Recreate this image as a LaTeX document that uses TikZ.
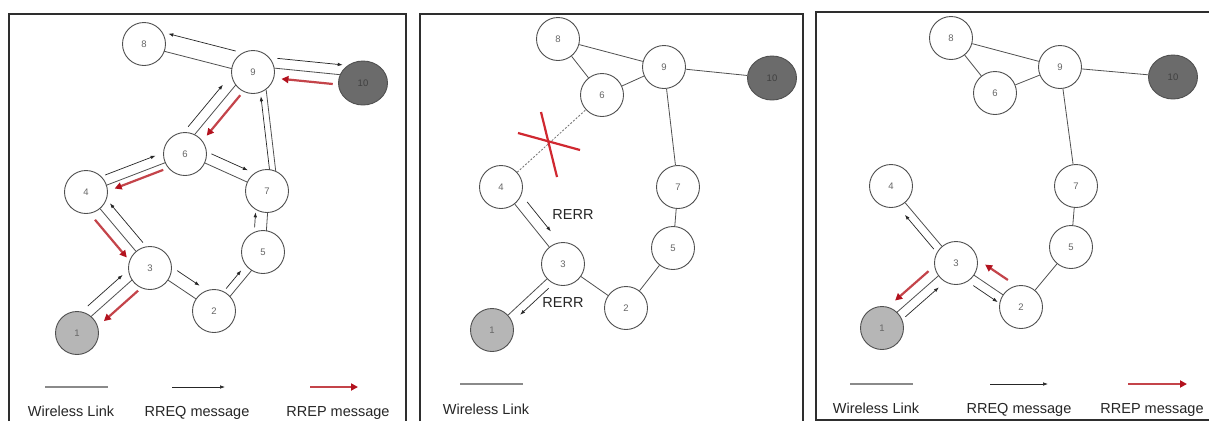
\documentclass[tikz,border=0pt]{standalone}
\usepackage{fontspec}
\setmainfont{Liberation Sans}
\usetikzlibrary{calc,arrows.meta,shapes.geometric}

\definecolor{framec}{HTML}{2E2E2E}
\definecolor{linkc}{HTML}{505050}
\definecolor{nodec}{HTML}{505050}
\definecolor{srcfill}{HTML}{B6B6B6}
\definecolor{dstfill}{HTML}{6B6B6B}
\definecolor{rrepc}{HTML}{C4444A}
\definecolor{rrephead}{HTML}{B3121E}
\definecolor{crossc}{HTML}{D02830}
\definecolor{legc}{HTML}{8A8A8A}

\tikzset{
  nd/.style={circle, draw=nodec, line width=0.9pt, minimum size=43pt, inner sep=0pt,
    fill=white, text=black!60, font=\fontsize{9.5}{9.5}\selectfont},
  srcnd/.style={nd, fill=srcfill},
  dstnd/.style={nd, ellipse, minimum width=49pt, minimum height=44pt, fill=dstfill, text=black!75},
  lnk/.style={draw=linkc, line width=0.8pt},
  rreq/.style={draw=black!85, line width=0.7pt, -{Latex[length=5pt,width=3.6pt]}},
  rrep/.style={draw=rrepc, line width=2.2pt, -{Triangle[length=7pt,width=7pt,color=rrephead]}},
  rerr/.style={rreq},
  deadlink/.style={draw=black!55, line width=0.8pt, dash pattern=on 2pt off 1.6pt},
  cross/.style={draw=crossc, line width=2.2pt},
  panel/.style={draw=framec, line width=1.8pt},
  leglink/.style={draw=legc, line width=1.3pt},
  lbl/.style={font=\fontsize{14.5}{14.5}\selectfont, text=black!85, anchor=base, inner sep=0pt},
}

% line parallel to the link a--b, shifted #4 pt to the left of the a->b direction,
% trimmed #5 pt at the start and #6 pt at the end
\newcommand{\pline}[6]{%
  \draw[#1, shorten <=#5pt, shorten >=#6pt]
    ($(#2)!#4pt!90:(#3)$) -- ($(#3)!#4pt!-90:(#2)$);}

\begin{document}
\begin{tikzpicture}[x=1pt,y=-1pt]
\useasboundingbox (0,0) rectangle (1209,421);
\fill[white] (0,0) rectangle (1209,421);

% ---------- panel frames ----------
\draw[panel] (9,421) -- (9,14) -- (406,14) -- (406,421);
\draw[panel] (420,421) -- (420,14) -- (803,14) -- (803,421);
\draw[panel] (1210,12) -- (816,12) -- (816,420) -- (1210,420);

% ================= panel 1: route discovery =================
\node[nd]    (a8)  at (144,44)  {8};
\node[nd]    (a9)  at (253,72)  {9};
\node[dstnd] (a10) at (363,83)  {10};
\node[nd]    (a6)  at (185,154) {6};
\node[nd]    (a4)  at (86,192)  {4};
\node[nd]    (a7)  at (267,191) {7};
\node[nd]    (a3)  at (150,268) {3};
\node[nd]    (a5)  at (263,252) {5};
\node[nd]    (a2)  at (214,311) {2};
\node[srcnd] (a1)  at (77,333)  {1};

\pline{lnk}{a9}{a8}{2}{21}{21}
\pline{rreq}{a9}{a8}{-16}{22}{21}
\pline{lnk}{a9}{a10}{6}{21}{24}
\pline{rreq}{a9}{a10}{16}{23}{22}
\pline{rrep}{a10}{a9}{4}{30}{29}
\pline{lnk}{a6}{a9}{5}{21}{21}
\pline{rreq}{a6}{a9}{15}{23}{29}
\pline{rrep}{a9}{a6}{5}{26}{28}
\pline{lnk}{a7}{a9}{-11}{19}{19}
\pline{rreq}{a7}{a9}{-5}{21}{25}
\draw[lnk] (a6) -- (a7);
\pline{rreq}{a6}{a7}{11}{24}{26}
\pline{lnk}{a4}{a6}{-1}{21}{21}
\pline{rreq}{a4}{a6}{9}{24}{28}
\pline{rrep}{a6}{a4}{7}{26}{28}
\draw[lnk] (a4) -- (a3);
\pline{rreq}{a3}{a4}{-11}{24}{24}
\pline{rrep}{a4}{a3}{-11}{27}{23}
\pline{lnk}{a1}{a3}{3}{21}{21}
\pline{rreq}{a1}{a3}{13}{26}{25}
\pline{rrep}{a3}{a1}{9}{24}{28}
\draw[lnk] (a3) -- (a2);
\pline{rreq}{a3}{a2}{13}{24}{26}
\pline{lnk}{a2}{a5}{-3}{21}{21}
\pline{rreq}{a2}{a5}{5}{25}{28}
\pline{lnk}{a5}{a7}{-2}{21}{21}
\pline{rreq}{a5}{a7}{10}{24}{22}

% legend
\draw[leglink] (45,387) -- (108,387);
\draw[rreq] (172,387) -- (225,387);
\draw[rrep] (310,387) -- (358,387);
\node[lbl] at (71,416)  {Wireless Link};
\node[lbl] at (197,416) {RREQ message};
\node[lbl] at (338,416) {RREP message};

% ================= panel 2: link break =================
\node[nd]    (b8)  at (558,39)  {8};
\node[nd]    (b9)  at (664,67)  {9};
\node[dstnd] (b10) at (772,78)  {10};
\node[nd]    (b6)  at (602,95)  {6};
\node[nd]    (b4)  at (501,187) {4};
\node[nd]    (b7)  at (678,187) {7};
\node[nd]    (b3)  at (563,264) {3};
\node[nd]    (b5)  at (673,248) {5};
\node[nd]    (b2)  at (626,308) {2};
\node[srcnd] (b1)  at (492,330) {1};

\draw[lnk] (b8) -- (b9);
\draw[lnk] (b8) -- (b6);
\draw[lnk] (b6) -- (b9);
\draw[lnk] (b9) -- (b10);
\draw[lnk] (b9) -- (b7);
\draw[lnk] (b7) -- (b5);
\draw[lnk] (b5) -- (b2);
\draw[lnk] (b2) -- (b3);
\draw[lnk] (b3) -- (b1);
\draw[lnk] (b4) -- (b3);
\draw[deadlink] (b4) -- (b6);
\draw[cross] (518,133) -- (580,150);
\draw[cross] (541,112) -- (557,177);

\pline{rerr}{b4}{b3}{11}{28}{33}
\pline{rerr}{b3}{b1}{8}{27}{31}
\node[lbl] at (573,219) {RERR};
\node[lbl] at (563,307) {RERR};

\draw[leglink] (460,384) -- (523,384);
\node[lbl] at (486,414) {Wireless Link};

% ================= panel 3: new route =================
\node[nd]    (c8)  at (951,38)   {8};
\node[nd]    (c9)  at (1060,67)  {9};
\node[dstnd] (c10) at (1173,77)  {10};
\node[nd]    (c6)  at (995,93)   {6};
\node[nd]    (c4)  at (891,186)  {4};
\node[nd]    (c7)  at (1076,186) {7};
\node[nd]    (c3)  at (956,263)  {3};
\node[nd]    (c5)  at (1071,247) {5};
\node[nd]    (c2)  at (1021,307) {2};
\node[srcnd] (c1)  at (882,328)  {1};

\draw[lnk] (c8) -- (c9);
\draw[lnk] (c8) -- (c6);
\draw[lnk] (c6) -- (c9);
\draw[lnk] (c9) -- (c10);
\draw[lnk] (c9) -- (c7);
\draw[lnk] (c7) -- (c5);
\draw[lnk] (c5) -- (c2);
\draw[lnk] (c3) -- (c4);
\draw[lnk] (c3) -- (c2);
\pline{lnk}{c1}{c3}{2}{21}{21}

\pline{rreq}{c3}{c4}{8}{25}{31}
\pline{rreq}{c1}{c3}{-7}{25}{29}
\pline{rrep}{c3}{c1}{-12}{26}{28}
\pline{rreq}{c3}{c2}{-9}{27}{22}
\pline{rrep}{c2}{c3}{-15}{26}{25}

\draw[leglink] (850,384) -- (913,384);
\draw[rreq] (990,384) -- (1048,384);
\draw[rrep] (1128,384) -- (1187,384);
\node[lbl] at (876,413)  {Wireless Link};
\node[lbl] at (1019,413) {RREQ message};
\node[lbl] at (1152,413) {RREP message};
\end{tikzpicture}
\end{document}
